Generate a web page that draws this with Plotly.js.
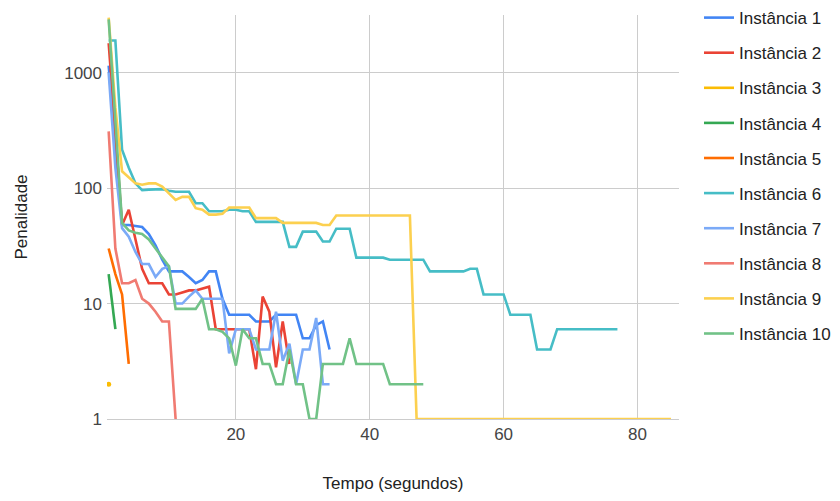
<!DOCTYPE html>
<html>
<head>
<meta charset="utf-8">
<script src="https://cdn.plot.ly/plotly-3.0.1.min.js"></script>
<style>html,body{margin:0;padding:0;background:#fff;}#chart{width:840px;height:501px;}</style>
</head>
<body>
<div id="chart"></div>
<script>
// Data (time in seconds, penalty)
const names = ["Instância 1","Instância 2","Instância 3","Instância 4","Instância 5","Instância 6","Instância 7","Instância 8","Instância 9","Instância 10"];
const colors = ["#4285F4","#EA4335","#FBBC04","#34A853","#FF6D01","#46BDC6","#7BAAF7","#F07B72","#FCD04F","#71C287"];

const t1 = [1,2,3,4,5,6,7,8,9,10,11,12,13,14,15,16,17,18,19,20,21,22,23,24,25,26,27,28,29,30,31,32,33,34];
const p1 = [1150,220,48,48,47,46,40,32,24,19,19,19,17,15,16,19,19,11,8,8,8,8,7,7,7,8,8,8,8,5,5,6.5,7,4];

const t2 = [1,2,3,4,5,6,7,8,9,10,11,12,13,14,15,16,17,18,19,20,21,22,23,24,25,26,27,28];
const p2 = [1800,300,48,65,35,20,15,15,15,12,12,12.5,13,13,13.5,14,6,6,6,6,6,6,2.7,11.5,8.5,2.8,7,3];

const t3 = [1];
const p3 = [2];

const t4 = [1,2];
const p4 = [18,6];

const t5 = [1,2,3,4];
const p5 = [30,18,12,3];

const t6 = [1,2,3,4,5,6,7,8,9,10,11,12,13,14,15,16,17,18,19,20,21,22,23,24,25,26,27,28,29,30,31,32,33,34,35,36,37,38,39,40,41,42,43,44,45,46,47,48,49,50,51,52,53,54,55,56,57,58,59,60,61,62,63,64,65,66,67,68,69,70,71,72,73,74,75,76,77];
const p6 = [1900,1900,215,150,110,96,97,98,98,95,93,93,93,74,74,63,63,63,65,65,63,63,51,51,51,51,51,31,31,42,42,42,34.5,34.5,44.5,44.5,44.5,25,25,25,25,25,24,24,24,24,24,24,19,19,19,19,19,19,20,20,12,12,12,12,8,8,8,8,4,4,4,6,6,6,6,6,6,6,6,6,6];

const t7 = [1,2,3,4,5,6,7,8,9,10,11,12,13,14,15,16,17,18,19,20,21,22,23,24,25,26,27,28,29,30,31,32,33,34];
const p7 = [1000,150,45,38,28,22,22,17,20,21,10,10,11.5,13,11,11,11,11,3.7,6,6,6,4,4,4,8.5,3.2,4.5,2,4,4,7.5,2,2];

const t8 = [1,2,3,4,5,6,7,8,9,10,11];
const p8 = [310,30,15,15,16,11,10,8.5,7,7,1];

const t9 = [1,2,3,4,5,6,7,8,9,10,11,12,13,14,15,16,17,18,19,20,21,22,23,24,25,26,27,28,29,30,31,32,33,34,35,36,37,38,39,40,41,42,43,44,45,46,47,48,49,50,51,52,53,54,55,56,57,58,59,60,61,62,63,64,65,66,67,68,69,70,71,72,73,74,75,76,77,78,79,80,81,82,83,84,85];
const p9 = [3000,500,140,125,110,107,110,110,103,90,79,84,84,67,65,59,59,60,68,68,68,68,55,55,55,55,50,50,50,50,50,50,48,48,58,58,58,58,58,58,58,58,58,58,58,58,1,1,1,1,1,1,1,1,1,1,1,1,1,1,1,1,1,1,1,1,1,1,1,1,1,1,1,1,1,1,1,1,1,1,1,1,1,1,1];

const t10 = [1,2,3,4,5,6,7,8,9,10,11,12,13,14,15,16,17,18,19,20,21,22,23,24,25,26,27,28,29,30,31,32,33,34,35,36,37,38,39,40,41,42,43,44,45,46,47,48];
const p10 = [2900,400,50,43,41,40,36,30,25,21,9,9,9,9,11,6,6,5.7,5,2.9,6,5,5,3,3,2,2,4,2,2,1,1,3,3,3,3,5,3,3,3,3,3,2,2,2,2,2,2];

const xTicks = [20,40,60,80];
const yTicks = [1,10,100,1000];
const yTickText = ["1","10","100","1000"];

const xs = [t1,t2,t3,t4,t5,t6,t7,t8,t9,t10];
const ys = [p1,p2,p3,p4,p5,p6,p7,p8,p9,p10];

const traces = xs.map((x,i)=>({
  x: x, y: ys[i], name: names[i], type:'scatter', mode:'lines',
  line:{color:colors[i], width:2.6},
  legendgroup:'g'+i, hoverinfo:'x+y+name'
}));
// single-point series drawn as a dot
traces.push({x:t3, y:p3, type:'scatter', mode:'markers', marker:{color:colors[2], size:5},
  showlegend:false, legendgroup:'g2', hoverinfo:'x+y'});

const font = "'Liberation Sans', Arial, sans-serif";
const layout = {
  width:840, height:501,
  margin:{l:107, r:161, t:15, b:82, autoexpand:false},
  paper_bgcolor:'#fff', plot_bgcolor:'#fff',
  font:{family:font, size:17, color:'#222'},
  showlegend:true,
  legend:{x:1.035, xanchor:'left', y:1.037, yanchor:'top', traceorder:'grouped', tracegroupgap:10,
    maxheight:1000,
    font:{family:font, size:17, color:'#222'}, bgcolor:'rgba(0,0,0,0)'},
  xaxis:{range:[0.75,86.2], tickvals:xTicks, showgrid:true, gridcolor:'#cccccc', gridwidth:1,
    zeroline:false, showline:true, linecolor:'#cccccc', linewidth:1, ticks:'',
    tickfont:{family:font, size:17, color:'#444'},
    title:{text:'Tempo (segundos)', font:{family:font, size:17, color:'#222'}, standoff:33}},
  yaxis:{type:'log', range:[0,3.5], tickvals:yTicks, ticktext:yTickText, showgrid:true,
    gridcolor:'#cccccc', gridwidth:1, zeroline:false, showline:false, ticks:'',
    tickfont:{family:font, size:17, color:'#444'}, ticklabelstandoff:4,
    title:{text:'Penalidade', font:{family:font, size:17, color:'#222'}, standoff:32}}
};
Plotly.newPlot('chart', traces, layout, {displayModeBar:false, staticPlot:true});
</script>
</body>
</html>
